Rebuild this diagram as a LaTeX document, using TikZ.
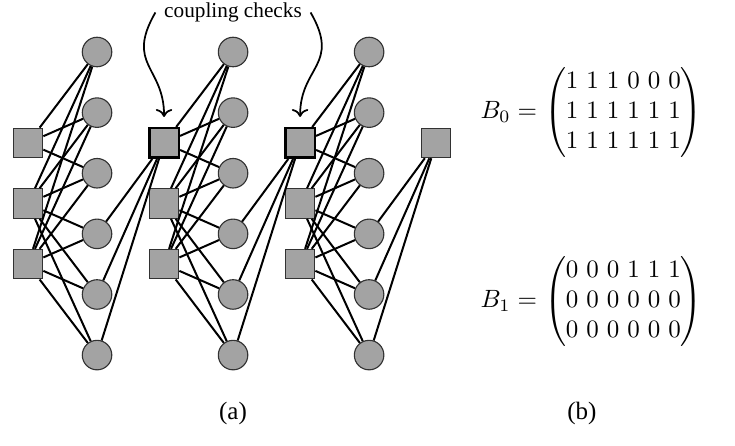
\documentclass[tikz,border=0pt]{standalone}
\usepackage{amsmath}
\usepackage[no-math]{fontspec}
\setmainfont{Liberation Serif}
\usetikzlibrary{arrows.meta}
\definecolor{nodegray}{RGB}{163, 163, 163}
\definecolor{rimgray}{RGB}{50, 50, 50}

\begin{document}
\begin{tikzpicture}[
                var/.style={circle, draw=rimgray, line width=0.45pt, fill=nodegray,
                            minimum size=11.8pt, inner sep=0pt},
                chk/.style={rectangle, draw=rimgray, line width=0.45pt, fill=nodegray,
                            minimum size=11.8pt, inner sep=0pt},
                cpl/.style={chk, draw=black, line width=1pt},
                edge/.style={line width=0.8pt},
                callout/.style={->, line width=0.7pt, shorten >=4pt}
            ]
            \useasboundingbox (0, 0) rectangle (10.331, 6.255);

            % variable nodes, one column per position
            \foreach \t in {0, 1, 2}
                \foreach \i in {0, ..., 5}
                    \node[var] (v\t\i) at ({1.364 + 1.912*\t}, {5.524 - 0.852*\i}) {};

            % check nodes (top row couples to the previous position)
            \foreach \t/\s in {0/chk, 1/cpl, 2/cpl, 3/chk}
                \node[\s] (c\t0) at ({0.394 + 1.912*\t}, 4.246) {};
            \foreach \t in {0, 1, 2}
                \foreach \k in {1, 2}
                    \node[chk] (c\t\k) at ({0.394 + 1.912*\t}, {4.246 - 0.852*\k}) {};

            % edges from B_0
            \foreach \t in {0, 1, 2} {
                \foreach \i in {0, 1, 2}
                    \draw[edge] (c\t0) -- (v\t\i);
                \foreach \k in {1, 2}
                    \foreach \i in {0, ..., 5}
                        \draw[edge] (c\t\k) -- (v\t\i);
            }
            % edges from B_1
            \foreach \t/\n in {0/1, 1/2, 2/3}
                \foreach \i in {3, 4, 5}
                    \draw[edge] (c\n0) -- (v\t\i);

            \node[font=\fontsize{8.5}{10}\selectfont] (lbl) at (3.275, 6.08) {coupling checks};
            \draw[callout] (lbl.west) to[out=-120, in=90, looseness=1.35] (c10.north);
            \draw[callout] (lbl.east) to[out=-60, in=90, looseness=1.35] (c20.north);

            \node[anchor=west, inner sep=0pt] (b0) at (6.747, 4.68)
                {\setlength\arraycolsep{1.6pt}%
                 $B_0 = \begin{pmatrix}
                     1 & 1 & 1 & 0 & 0 & 0\\
                     1 & 1 & 1 & 1 & 1 & 1\\
                     1 & 1 & 1 & 1 & 1 & 1
                 \end{pmatrix}$};
            \node[anchor=west, inner sep=0pt] (b1) at (6.747, 2.024)
                {\setlength\arraycolsep{1.6pt}%
                 $B_1 = \begin{pmatrix}
                     0 & 0 & 0 & 1 & 1 & 1\\
                     0 & 0 & 0 & 0 & 0 & 0\\
                     0 & 0 & 0 & 0 & 0 & 0
                 \end{pmatrix}$};

            \node (capa) at (3.275, 0.44) {(a)};
            \node (capb) at (8.18, 0.44) {(b)};

            \end{tikzpicture}
\end{document}
